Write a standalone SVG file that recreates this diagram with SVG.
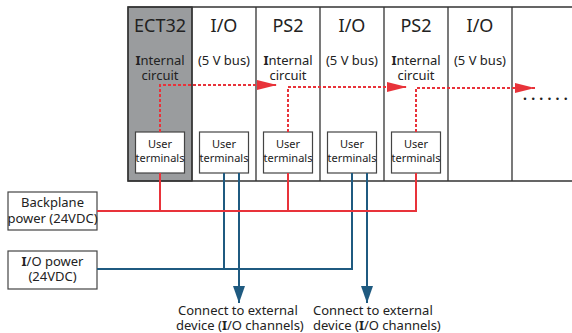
<svg xmlns="http://www.w3.org/2000/svg" width="572" height="333" viewBox="0 0 572 333">
<defs>
<style>
text{font-family:"Noto Sans","Open Sans","DejaVu Sans",sans-serif;fill:#222;text-anchor:middle}
.t{font-size:18px}
.s{font-size:13px}
.u{font-size:11px}
.l{font-size:13px}
.st{text-anchor:start}
.b{font-weight:bold}
.box{fill:#fff;stroke:#444;stroke-width:1.2}
.col{fill:none;stroke:#333;stroke-width:1.3}
.red{fill:none;stroke:#e8333a;stroke-width:2}
.dash{fill:none;stroke:#e8333a;stroke-width:2;stroke-dasharray:3 2}
.blue{fill:none;stroke:#1f5a80;stroke-width:2}
</style>
<marker id="ra" markerWidth="20" markerHeight="10" refX="20" refY="5" orient="auto" markerUnits="userSpaceOnUse"><path d="M0,0 L20,5 L0,10 Z" fill="#e8333a"/></marker>
<marker id="ba" markerWidth="17" markerHeight="12" refX="17" refY="6" orient="auto" markerUnits="userSpaceOnUse"><path d="M0,0 L17,6 L0,12 Z" fill="#1f5a80"/></marker>
</defs>
<g id="rack">
<rect x="128" y="7" width="64" height="174" fill="#9a9c9e" stroke="#333" stroke-width="1.3"/>
<path class="col" d="M572,7 H128 V181 H572 M192,7 V181 M256,7 V181 M320,7 V181 M384,7 V181 M448,7 V181 M512,7 V181"/>
</g>
<g id="ect32">
<text class="t" x="160" y="32">ECT32</text>
<text class="s" x="160" y="65"><tspan class="b">I</tspan>nternal<tspan x="160" dy="15">circuit</tspan></text>
<rect class="box" x="135.5" y="132" width="49" height="41"/>
<text class="u" x="160" y="148">User<tspan x="160" dy="14">terminals</tspan></text>
</g>
<g id="io1">
<text class="t" x="224" y="32">I/O</text>
<text class="s" x="224" y="65">(5 V bus)</text>
<rect class="box" x="199.5" y="132" width="49" height="41"/>
<text class="u" x="224" y="148">User<tspan x="224" dy="14">terminals</tspan></text>
</g>
<g id="ps2a">
<text class="t" x="288" y="32">PS2</text>
<text class="s" x="288" y="65"><tspan class="b">I</tspan>nternal<tspan x="288" dy="15">circuit</tspan></text>
<rect class="box" x="263.5" y="132" width="49" height="41"/>
<text class="u" x="288" y="148">User<tspan x="288" dy="14">terminals</tspan></text>
</g>
<g id="io2">
<text class="t" x="352" y="32">I/O</text>
<text class="s" x="352" y="65">(5 V bus)</text>
<rect class="box" x="327.5" y="132" width="49" height="41"/>
<text class="u" x="352" y="148">User<tspan x="352" dy="14">terminals</tspan></text>
</g>
<g id="ps2b">
<text class="t" x="416" y="32">PS2</text>
<text class="s" x="416" y="65"><tspan class="b">I</tspan>nternal<tspan x="416" dy="15">circuit</tspan></text>
<rect class="box" x="391.5" y="132" width="49" height="41"/>
<text class="u" x="416" y="148">User<tspan x="416" dy="14">terminals</tspan></text>
</g>
<g id="io3">
<text class="t" x="480" y="32">I/O</text>
<text class="s" x="480" y="65">(5 V bus)</text>
</g>
<g id="backplane">
<rect class="box" x="8" y="192" width="89" height="38"/>
<text class="l" x="52.5" y="207">Backplane<tspan x="52.5" dy="16">power (24VDC)</tspan></text>
</g>
<g id="iopower">
<rect class="box" x="8" y="251" width="89" height="38"/>
<text class="l" x="52.5" y="266"><tspan class="b">I</tspan>/O power<tspan x="52.5" dy="15">(24VDC)</tspan></text>
</g>
<g id="ext1">
<text class="l st" x="178" y="315">Connect to external<tspan x="176" dy="15">device (</tspan><tspan class="b">I</tspan>/O channels)</text>
</g>
<g id="ext2">
<text class="l st" x="313" y="315">Connect to external<tspan x="313" dy="15">device (</tspan><tspan class="b">I</tspan>/O channels)</text>
</g>
<g id="connectors">
<path class="blue" d="M97,269 H352 V173 M224,173 V269"/>
<path class="blue" d="M239,173 V303" marker-end="url(#ba)"/>
<path class="blue" d="M367,173 V303" marker-end="url(#ba)"/>
<path class="red" d="M97,211 H416 V173 M160,173 V211 M288,173 V211"/>
<path class="dash" d="M160,132 V85 H277" marker-end="url(#ra)"/>
<path class="dash" d="M288,132 V87 H407" marker-end="url(#ra)"/>
<path class="dash" d="M416,132 V88 H535" marker-end="url(#ra)"/>
<text x="523" y="100" style="font-size:14px;fill:#222;text-anchor:start;letter-spacing:4.2px;font-weight:bold">......</text>
</g>
</svg>
